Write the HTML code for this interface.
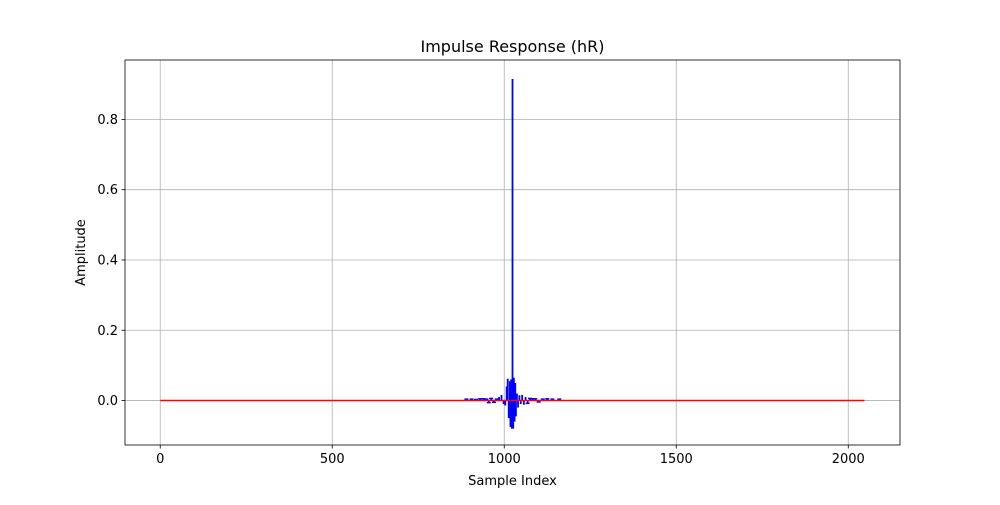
<!DOCTYPE html>
<html><head><meta charset="utf-8"><style>
body{margin:0;background:#fff;font-family:"Liberation Sans","DejaVu Sans",sans-serif;}
svg text{font-family:"DejaVu Sans","Liberation Sans",sans-serif;font-size:13px;fill:#000}
</style></head><body>
<svg id="c" width="1000" height="500"></svg>
<script>
const sampleIdx=[890,905,918,930,940,948,955,962,970,978,985,992,998,1003,1007,1010,1013,1016,1018,1020,1022,1024,1026,1028,1030,1032,1034,1037,1040,1044,1048,1052,1057,1062,1068,1075,1082,1090,1100,1112,1125,1140,1160];
const sampleVal=[0.004,0.004,0.003,0.005,0.005,0.004,-0.006,0.006,-0.005,0.004,0.01,0.016,-0.01,-0.014,0.04,0.062,-0.05,0.055,-0.075,0.06,-0.08,0.915,-0.08,0.065,-0.06,0.05,-0.045,0.02,-0.02,0.015,-0.01,0.016,-0.012,0.01,-0.008,0.006,0.005,0.005,-0.004,0.004,0.005,0.004,0.004];
const xTicks=[0,500,1000,1500,2000];
const yTicks=[0.0,0.2,0.4,0.6,0.8];
const N=2048;
const L=125,R=900,T=60,B=445;
const xmin=-102.4,xmax=2150.4,ymin=-0.1265,ymax=0.969;
const X=v=>L+(v-xmin)/(xmax-xmin)*(R-L);
const Y=v=>B-(v-ymin)/(ymax-ymin)*(B-T);
const svg=document.getElementById('c');const ns='http://www.w3.org/2000/svg';
function mk(t,a,p){const e=document.createElementNS(ns,t);for(const k in a)e.setAttribute(k,a[k]);(p||svg).appendChild(e);return e;}
mk('rect',{x:0,y:0,width:1000,height:500,fill:'#fff'});
xTicks.forEach(t=>{const x=X(t);
const g=mk('line',{x1:x,x2:x,y1:T,y2:B,stroke:'#b0b0b0','stroke-width':0.8});

mk('line',{x1:x,x2:x,y1:B,y2:B+3.5,stroke:'#000','stroke-width':0.8});
const tx=mk('text',{x:x,y:B+18,'text-anchor':'middle'});tx.textContent=t;
});
yTicks.forEach(t=>{const y=Y(t);
const g=mk('line',{x1:L,x2:R,y1:y,y2:y,stroke:'#b0b0b0','stroke-width':0.8});

mk('line',{x1:L-3.5,x2:L,y1:y,y2:y,stroke:'#000','stroke-width':0.8});
const tx=mk('text',{x:L-7,y:y+4.5,'text-anchor':'end'});tx.textContent=t.toFixed(1);
});
sampleIdx.forEach((i,k)=>{const x=X(i);
const s=mk('line',{x1:x,x2:x,y1:Y(0),y2:Y(sampleVal[k]),stroke:'#0000ff','stroke-width':1.8});

if(Math.abs(sampleVal[k])<0.01){
const m=mk('line',{x1:x-2,x2:x+2,y1:Y(sampleVal[k]),y2:Y(sampleVal[k]),stroke:'#0000ff','stroke-width':1.5});
}});
const bl=mk('line',{x1:X(0),x2:X(N-1),y1:Y(0),y2:Y(0),stroke:'#ff0000','stroke-width':1.5});

const fr=mk('rect',{x:L,y:T,width:R-L,height:B-T,fill:'none',stroke:'#000','stroke-width':0.8});

const ti=mk('text',{x:(L+R)/2,y:52,'text-anchor':'middle'});ti.textContent='Impulse Response (hR)';ti.style.fontSize='16px';

const xl=mk('text',{x:(L+R)/2,y:485,'text-anchor':'middle'});xl.textContent='Sample Index';

const yl=mk('text',{x:85,y:(T+B)/2,'text-anchor':'middle',transform:`rotate(-90 85 ${(T+B)/2})`});yl.textContent='Amplitude';

</script>
</body></html>
